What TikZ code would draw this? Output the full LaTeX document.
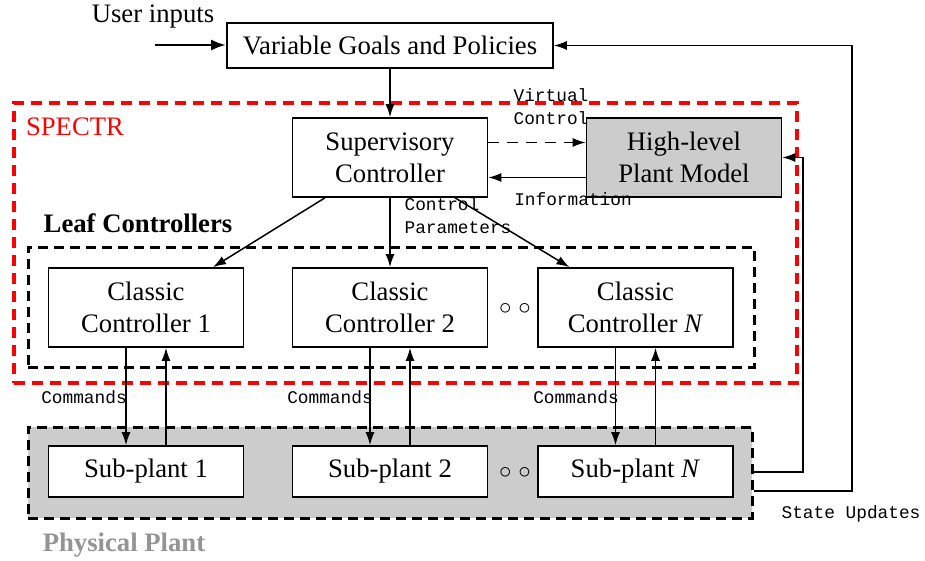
\documentclass[tikz,border=0pt]{standalone}
\usepackage{fontspec}
\setmainfont{Liberation Serif}
\setmonofont{Liberation Mono}
\usetikzlibrary{arrows.meta,calc}

\definecolor{plantgray}{gray}{0.8}
\definecolor{labelgray}{gray}{0.58}

\tikzset{
  x=1pt, y=-1pt,
  txt/.style={font=\fontsize{26.7}{32}\selectfont},
  mono/.style={font=\ttfamily\fontsize{17.8}{23}\selectfont, align=left, inner sep=0pt},
  box/.style={draw, line width=1.6pt, txt, align=center, inner sep=0pt,
              minimum width=195, minimum height=79},
  subbox/.style={box, fill=white, minimum height=51},
  arr/.style={line width=1.5pt, -{Latex[length=13pt,width=9pt]}},
  grpbox/.style={draw, dash pattern=on 10pt off 6pt, line width=3pt, inner sep=0pt},
}

\begin{document}
\begin{tikzpicture}
\useasboundingbox (0,0) rectangle (925,561);

% enclosing groups
\node[grpbox, draw=red, line width=4pt, dash pattern=on 11pt off 7pt,
      minimum width=783, minimum height=280] (spectr) at (405.5,243) {};
\node[grpbox, minimum width=726, minimum height=120] (leaf) at (391,307) {};
\node[grpbox, fill=plantgray, minimum width=724, minimum height=91] (pp) at (390,472.5) {};

\node[txt, text=red, inner sep=0pt] (spectrlbl) at (75,127) {SPECTR};
\node[txt, font=\bfseries\fontsize{26.7}{32}\selectfont, inner sep=0pt] (leaflbl) at (138,223) {Leaf Controllers};
\node[txt, font=\bfseries\fontsize{26.7}{32}\selectfont, text=labelgray, inner sep=0pt] (pplbl) at (124,545) {Physical Plant};

% top level
\node[txt, inner sep=0pt] (user) at (153,17) {User inputs};
\coordinate (userin) at (155,45);
\node[box, minimum width=326, minimum height=45] (vg) at (390,45.5) {Variable Goals and Policies};

\node[box] (sup) at (390,157.5) {Supervisory\\Controller};
\node[box, fill=plantgray] (hl) at (684,157.5) {High-level\\Plant Model};

% leaf controllers
\node[box] (cc1) at (146,307.5) {Classic\\Controller 1};
\node[box] (cc2) at (390,307.5) {Classic\\Controller 2};
\node[box] (ccn) at (635.5,307.5) {Classic\\Controller \textit{N}};
\node[txt, inner sep=0pt] (dots1) at (515,309) {$\circ$ $\circ$};

% sub-plants
\node[subbox] (sp1) at (146,471.5) {Sub-plant 1};
\node[subbox] (sp2) at (390,471.5) {Sub-plant 2};
\node[subbox] (spn) at (635.5,471.5) {Sub-plant \textit{N}};
\node[txt, inner sep=0pt] (dots2) at (515,473) {$\circ$ $\circ$};

% connectors
\draw[line width=2.8pt, -{Latex[length=15pt,width=11pt]}] (userin) -- (vg.west |- userin);
\draw[arr] (vg) -- (sup);
\draw[arr, dash pattern=on 11pt off 8pt] ($(sup.east)+(0,-15)$) -- ($(hl.west)+(0,-15)$);
\draw[arr] ($(hl.west)+(0,20)$) -- ($(sup.east)+(0,20)$);
\node[mono] (vclbl) at (551,107) {Virtual\\Control};
\node[mono] (infolbl) at (573,199) {Information};

\draw[arr] ($(sup.south)+(-65,0)$) -- ($(cc1.north)+(67,0)$);
\draw[arr] (sup) -- (cc2);
\draw[arr] ($(sup.south)+(65,0)$) -- ($(ccn.north)+(-66,0)$);
\node[mono] (cplbl) at (458,216) {Control\\Parameters};

\foreach \c/\s in {cc1/sp1, cc2/sp2, ccn/spn}{
  \draw[arr] ($(\c.south)+(-20,0)$) -- ($(\s.north)+(-20,0)$);
  \draw[arr] ($(\s.north)+(20,0)$) -- ($(\c.south)+(20,0)$);
}
\node[mono] (cm1) at (84,397) {Commands};
\node[mono] (cm2) at (330,397) {Commands};
\node[mono] (cm3) at (576,397) {Commands};

% state feedback
\coordinate (r1) at (803,472);
\coordinate (r2) at (852,491);
\draw[arr] (pp.east |- r1) -- (r1) |- (hl.east);
\draw[arr] (pp.east |- r2) -- (r2) |- (vg.east);
\node[mono] (sulbl) at (851,514) {State Updates};
\end{tikzpicture}
\end{document}
